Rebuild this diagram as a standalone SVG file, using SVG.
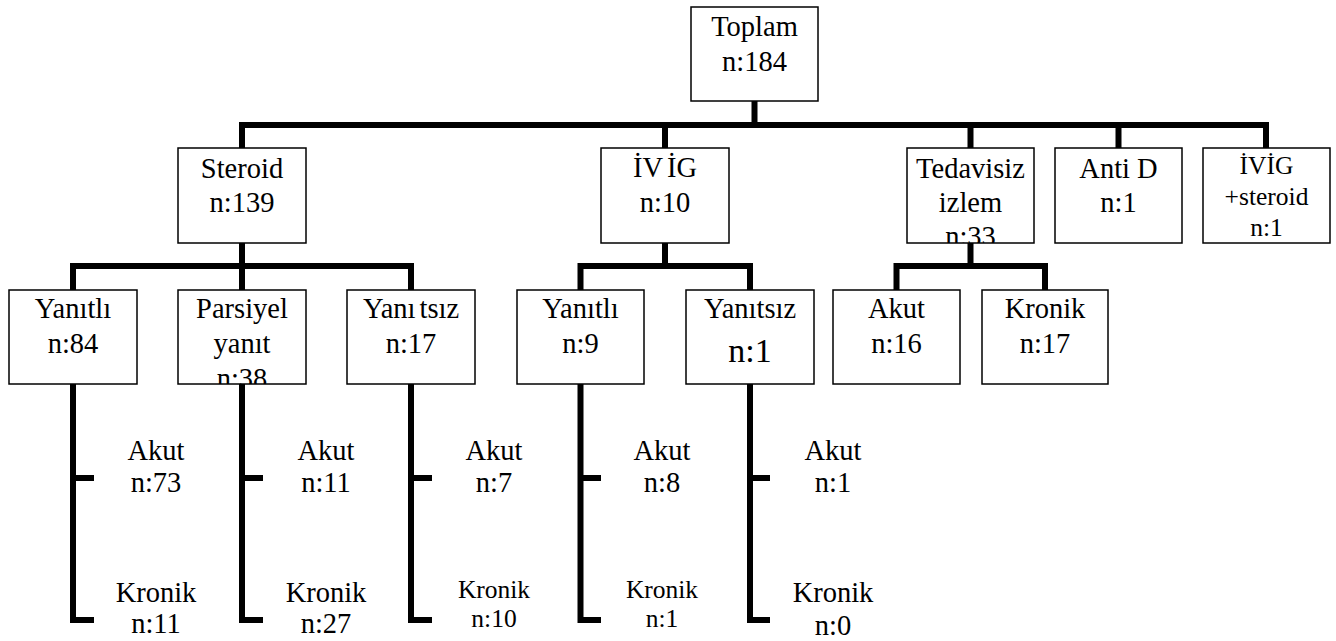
<svg xmlns="http://www.w3.org/2000/svg" width="1336" height="641" viewBox="0 0 1336 641">
<style>
.box{fill:#fff;stroke:#000;stroke-width:1.5}
text{font-family:'Liberation Serif','Times New Roman',serif;font-size:28.5px;fill:#000;text-anchor:middle}
.s{font-size:25.5px}
.b{font-size:34px}
.c{fill:none;stroke:#000;stroke-width:6;stroke-linecap:butt;stroke-linejoin:miter}
</style>
<defs>
<clipPath id="cpTed"><rect x="907" y="148" width="127" height="95"/></clipPath>
<clipPath id="cpPar"><rect x="178" y="290" width="128" height="94"/></clipPath>
</defs>
<g id="connectors">
<path class="c" d="M754.5,101 V125 M242,148 V125 H1266 V148 M665,125 V148 M970.5,125 V148 M1118.5,125 V148"/>
<path class="c" d="M242,243 V266 M73,290 V266 H411 V290 M242,266 V290"/>
<path class="c" d="M665,243 V266 M580.5,290 V266 H750 V290"/>
<path class="c" d="M970.5,243 V266 M896.5,290 V266 H1045 V290"/>
<path class="c" d="M73,384 V620 H94 M73,478 H94"/>
<path class="c" d="M242,384 V620 H263 M242,478 H263"/>
<path class="c" d="M411,384 V620 H432 M411,478 H432"/>
<path class="c" d="M580.5,384 V620 H601 M580.5,478 H601"/>
<path class="c" d="M750,384 V620 H770 M750,478 H770"/>
</g>
<g id="n-toplam"><rect class="box" x="691" y="7" width="127" height="94"/><text x="754.5" y="36">Toplam</text><text x="754.5" y="71">n:184</text></g>
<g id="n-steroid"><rect class="box" x="178" y="148" width="128" height="95"/><text x="242" y="178">Steroid</text><text x="242" y="212">n:139</text></g>
<g id="n-ivig"><rect class="box" x="601" y="148" width="128" height="95"/><text x="665" y="177">İV<tspan dx="4">İG</tspan></text><text x="665" y="212">n:10</text></g>
<g id="n-tedavisiz"><rect class="box" x="907" y="148" width="127" height="95"/><g clip-path="url(#cpTed)"><text x="970.5" y="178">Tedavisiz</text><text x="970.5" y="212">izlem</text><text x="970.5" y="246">n:33</text></g></g>
<g id="n-antid"><rect class="box" x="1055" y="148" width="127" height="95"/><text x="1118.5" y="178">Anti D</text><text x="1118.5" y="212">n:1</text></g>
<g id="n-ivigsteroid"><rect class="box" x="1203" y="148" width="127" height="95"/><text class="s" x="1266.5" y="174">İVİG</text><text class="s" x="1266.5" y="205">+steroid</text><text class="s" x="1266.5" y="236">n:1</text></g>
<g id="n-s-yanitli"><rect class="box" x="9" y="290" width="128" height="94"/><text x="73" y="318">Yanıtlı</text><text x="73" y="353">n:84</text></g>
<g id="n-s-parsiyel"><rect class="box" x="178" y="290" width="128" height="94"/><g clip-path="url(#cpPar)"><text x="242" y="318">Parsiyel</text><text x="242" y="353">yanıt</text><text x="242" y="388">n:38</text></g></g>
<g id="n-s-yanitsiz"><rect class="box" x="347" y="290" width="128" height="94"/><text x="411" y="318">Yanı<tspan dx="4">tsız</tspan></text><text x="411" y="353">n:17</text></g>
<g id="n-i-yanitli"><rect class="box" x="517" y="290" width="127" height="94"/><text x="580.5" y="318">Yanıtlı</text><text x="580.5" y="353">n:9</text></g>
<g id="n-i-yanitsiz"><rect class="box" x="686" y="290" width="128" height="94"/><text x="750" y="318">Yanıtsız</text><text class="b" x="750" y="362">n:1</text></g>
<g id="n-t-akut"><rect class="box" x="833" y="290" width="127" height="94"/><text x="896.5" y="318">Akut</text><text x="896.5" y="353">n:16</text></g>
<g id="n-t-kronik"><rect class="box" x="982" y="290" width="126" height="94"/><text x="1045" y="318">Kronik</text><text x="1045" y="353">n:17</text></g>
<g id="l-c1-akut"><text x="156" y="460">Akut</text><text x="156" y="492">n:73</text></g>
<g id="l-c1-kronik"><text x="156" y="602">Kronik</text><text x="156" y="633">n:11</text></g>
<g id="l-c2-akut"><text x="326" y="460">Akut</text><text x="326" y="492">n:11</text></g>
<g id="l-c2-kronik"><text x="326" y="602">Kronik</text><text x="326" y="633">n:27</text></g>
<g id="l-c3-akut"><text x="494" y="460">Akut</text><text x="494" y="492">n:7</text></g>
<g id="l-c3-kronik"><text class="s" x="494" y="598">Kronik</text><text class="s" x="494" y="627">n:10</text></g>
<g id="l-c4-akut"><text x="662" y="460">Akut</text><text x="662" y="492">n:8</text></g>
<g id="l-c4-kronik"><text class="s" x="662" y="598">Kronik</text><text class="s" x="662" y="627">n:1</text></g>
<g id="l-c5-akut"><text x="833" y="460">Akut</text><text x="833" y="492">n:1</text></g>
<g id="l-c5-kronik"><text x="833" y="602">Kronik</text><text x="833" y="635">n:0</text></g>
</svg>
